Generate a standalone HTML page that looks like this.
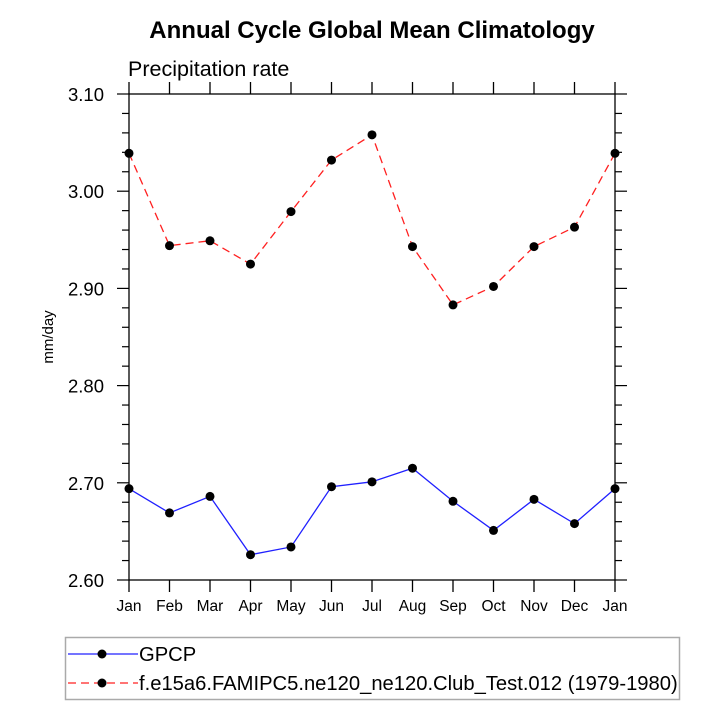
<!DOCTYPE html>
<html><head><meta charset="utf-8"><style>
body{margin:0;background:#fff;}
svg{display:block;font-family:"Liberation Sans",Arial,sans-serif;}
</style></head><body>
<svg id="chart" width="720" height="720">
<text x="372" y="38" text-anchor="middle" font-size="24" font-weight="bold">Annual Cycle Global Mean Climatology</text>
<text x="128" y="76" font-size="21.5">Precipitation rate</text>
<text transform="translate(53,337) rotate(-90)" text-anchor="middle" font-size="15">mm/day</text>
<g id="axes"></g>
<g id="series"></g>
<rect x="65.5" y="637.5" width="614" height="62" fill="none" stroke="#aaa" stroke-width="1.5"/>
<g>
<line x1="68" y1="654" x2="138" y2="654" stroke="#2020ff" stroke-width="1.3"/>
<circle cx="102" cy="654" r="4.5" fill="#000"/>
<text x="139" y="661" font-size="20.2">GPCP</text>
</g>
<g>
<line x1="68" y1="683" x2="138" y2="683" stroke="#ff2020" stroke-width="1.3" stroke-dasharray="8,5"/>
<circle cx="102" cy="683" r="4.5" fill="#000"/>
<text x="139" y="690" font-size="20.2">f.e15a6.FAMIPC5.ne120_ne120.Club_Test.012 (1979-1980)</text>
</g>
</svg>
<script>
const months=["Jan","Feb","Mar","Apr","May","Jun","Jul","Aug","Sep","Oct","Nov","Dec","Jan"];
const gpcp=[2.694,2.669,2.686,2.626,2.634,2.696,2.701,2.715,2.681,2.651,2.683,2.658,2.694];
const model=[3.039,2.944,2.949,2.925,2.979,3.032,3.058,2.943,2.883,2.902,2.943,2.963,3.039];
const yTicks=["2.60","2.70","2.80","2.90","3.00","3.10"];
const L=129,R=615,T=94,B=580,ymin=2.6,ymax=3.1;
const xs=i=>L+(R-L)*i/(months.length-1);
const ys=v=>B-(v-ymin)/(ymax-ymin)*(B-T);
const NS="http://www.w3.org/2000/svg";
function mk(tag,attrs,parent){const e=document.createElementNS(NS,tag);for(const k in attrs)e.setAttribute(k,attrs[k]);parent.appendChild(e);return e;}
const ax=document.getElementById('axes');
const frame=mk('rect',{x:L,y:T,width:R-L,height:B-T,fill:'none',stroke:'#000','stroke-width':1.3},ax);


months.forEach((m,i)=>{
  const x=xs(i);
  mk('line',{x1:x,y1:B,x2:x,y2:B+12,stroke:'#000','stroke-width':1.3},ax);
  mk('line',{x1:x,y1:T,x2:x,y2:T-12,stroke:'#000','stroke-width':1.3},ax);
  const t=mk('text',{x:x,y:B+31,'text-anchor':'middle','font-size':15.5},ax);
  t.textContent=m;
  
  
});
for(let k=0;k<=25;k++){
  const v=ymin+k*0.02,y=ys(v),major=k%5===0;
  const len=major?12:7;
  mk('line',{x1:L,y1:y,x2:L-len,y2:y,stroke:'#000','stroke-width':1.2},ax);
  mk('line',{x1:R,y1:y,x2:R+len,y2:y,stroke:'#000','stroke-width':1.2},ax);
}
yTicks.forEach(s=>{
  const t=mk('text',{x:104,y:ys(parseFloat(s))+7,'text-anchor':'end','font-size':18.5},ax);
  t.textContent=s;
  
  
});
const sg=document.getElementById('series');
function series(vals,color,dash,name){
  const g=mk('g',{},sg);
  
  
  mk('polyline',{points:vals.map((v,i)=>xs(i)+','+ys(v)).join(' '),fill:'none',stroke:color,'stroke-width':1.3,'stroke-dasharray':dash},g);
  vals.forEach((v,i)=>{
    const c=mk('circle',{cx:xs(i),cy:ys(v),r:4.5,fill:'#000'},g);
    
    
  });
}
series(model,'#ff2020','8,5','model-series');
series(gpcp,'#2020ff','none','gpcp-series');
</script>
</body></html>
